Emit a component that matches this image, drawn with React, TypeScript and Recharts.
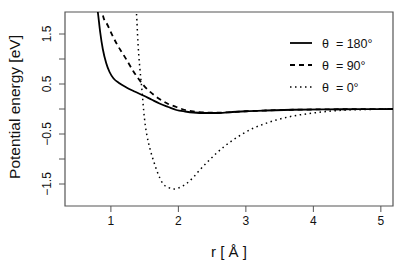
import React from 'react';
import { LineChart, Line, XAxis, YAxis, ReferenceArea } from 'recharts';

// r [Å] and potential energy [eV]
const r180 = [0.79, 0.81, 0.84, 0.88, 0.93, 0.98, 1.04, 1.12, 1.23, 1.35, 1.48, 1.6, 1.72, 1.85, 1.97, 2.1, 2.22, 2.4, 2.6, 2.8, 3.0, 3.3, 3.7, 4.2, 4.7, 5.18];
const e180 = [2.1, 1.9, 1.55, 1.2, 0.92, 0.74, 0.61, 0.52, 0.43, 0.35, 0.27, 0.19, 0.11, 0.04, -0.02, -0.05, -0.07, -0.08, -0.08, -0.06, -0.045, -0.03, -0.015, -0.007, -0.003, 0];

const r90 = [0.86, 0.886, 0.95, 1.03, 1.1, 1.18, 1.26, 1.33, 1.4, 1.48, 1.55, 1.62, 1.72, 1.85, 1.97, 2.1, 2.22, 2.4, 2.6, 2.8, 3.0, 3.3, 3.7, 4.2, 4.7, 5.18];
const e90 = [2.05, 1.85, 1.68, 1.45, 1.27, 1.1, 0.92, 0.76, 0.62, 0.48, 0.38, 0.3, 0.2, 0.1, 0.04, -0.02, -0.05, -0.07, -0.075, -0.06, -0.045, -0.03, -0.015, -0.007, -0.003, 0];

const r0 = [1.37, 1.38, 1.4, 1.413, 1.43, 1.453, 1.47, 1.487, 1.51, 1.53, 1.58, 1.63, 1.7, 1.77, 1.85, 1.93, 2.0, 2.12, 2.22, 2.31, 2.43, 2.56, 2.68, 2.81, 2.95, 3.1, 3.27, 3.45, 3.7, 3.94, 4.2, 4.43, 4.8, 5.18];
const e0 = [2.1, 1.9, 1.35, 1.08, 0.8, 0.48, 0.22, -0.05, -0.33, -0.5, -0.8, -1.03, -1.3, -1.49, -1.57, -1.6, -1.58, -1.49, -1.37, -1.23, -1.06, -0.89, -0.75, -0.62, -0.5, -0.39, -0.3, -0.22, -0.14, -0.09, -0.05, -0.025, -0.01, 0];

const xTicks = [1, 2, 3, 4, 5];
const yTicks = [-1.5, -1, -0.5, 0, 0.5, 1, 1.5];
const yLabelled = [-1.5, -0.5, 0.5, 1.5];

const DASHED = '5 4';
const DOTTED = '1.5 3.5';

const legendItems = [
  { label: 'θ  = 180°', dash: undefined, width: 1.8 },
  { label: 'θ  = 90°', dash: DASHED, width: 1.8 },
  { label: 'θ  = 0°', dash: DOTTED, width: 1.5 },
];

const toPoints = (xs: number[], ys: number[]) => xs.map((r, i) => ({ r, e: ys[i] }));

const FONT = '"Liberation Sans", Arial, Helvetica, sans-serif';
const X_DOMAIN: [number, number] = [0.32, 5.18];
const Y_DOMAIN: [number, number] = [-1.94, 1.94];

const fmtNum = (v: number) => (v < 0 ? '\u2212' + Math.abs(v) : String(v));

const YTick = (props: any) => {
  const { x, y, payload } = props;
  if (!yLabelled.includes(payload.value)) return null;
  const tx = x - 6;
  return (
    <text x={tx} y={y} transform={`rotate(-90, ${tx}, ${y})`} textAnchor="middle" fontSize={12} fontFamily={FONT} fill="#111">
      {fmtNum(payload.value)}
    </text>
  );
};

const App: React.FC = () => {
  return (
    <div style={{ position: 'absolute', left: 0, top: 0, width: 407, height: 271, background: '#fff' }}>
      <LineChart width={407} height={271} margin={{ top: 12, right: 14, left: 0, bottom: 0 }}>
        <XAxis
          type="number"
          dataKey="r"
          domain={X_DOMAIN}
          ticks={xTicks}
          allowDataOverflow
          height={65}
          tickSize={6}
          tickMargin={4}
          axisLine={false}
          tickLine={{ stroke: '#555' }}
          tick={{ fontSize: 12, fontFamily: FONT, fill: '#111' }}
          label={{
            content: (p: any) => {
              const vb = p.viewBox;
              return (
                <text x={vb.x + vb.width / 2} y={vb.y + 51} textAnchor="middle" fontSize={15} fontFamily={FONT} fill="#111">
                  r [ Å ]
                </text>
              );
            },
          }}
        />
        <YAxis
          type="number"
          dataKey="e"
          domain={Y_DOMAIN}
          ticks={yTicks}
          allowDataOverflow
          width={65}
          tickSize={6}
          tickMargin={2}
          axisLine={false}
          tickLine={{ stroke: '#555' }}
          tick={<YTick />}
          label={{
            content: (p: any) => {
              const vb = p.viewBox;
              const lx = vb.x + 20;
              const ly = vb.y + vb.height / 2 - 2;
              return (
                <text x={lx} y={ly} transform={`rotate(-90, ${lx}, ${ly})`} textAnchor="middle" fontSize={15.5} fontFamily={FONT} fill="#111">
                  Potential energy [eV]
                </text>
              );
            },
          }}
        />
        <ReferenceArea x1={X_DOMAIN[0]} x2={X_DOMAIN[1]} y1={Y_DOMAIN[0]} y2={Y_DOMAIN[1]} fill="none" stroke="#555" strokeWidth={1.2} ifOverflow="visible" />
        <Line data={toPoints(r180, e180)} dataKey="e" type="monotone" stroke="#000" strokeWidth={1.8} dot={false} isAnimationActive={false} />
        <Line data={toPoints(r90, e90)} dataKey="e" type="monotone" stroke="#000" strokeWidth={1.8} strokeDasharray={DASHED} dot={false} isAnimationActive={false} />
        <Line data={toPoints(r0, e0)} dataKey="e" type="monotone" stroke="#000" strokeWidth={1.5} strokeDasharray={DOTTED} dot={false} isAnimationActive={false} />
      </LineChart>
      <svg width={407} height={271} style={{ position: 'absolute', left: 0, top: 0, pointerEvents: 'none' }}>
        {legendItems.map((it, i) => {
          const y = 43 + i * 22;
          return (
            <g key={it.label}>
              <line x1={290} x2={312} y1={y} y2={y} stroke="#000" strokeWidth={it.width} strokeDasharray={it.dash} />
              <text x={322} y={y + 4.5} fontSize={12.5} fontFamily={FONT} fill="#111" style={{ whiteSpace: 'pre' }}>
                {it.label}
              </text>
            </g>
          );
        })}
      </svg>
    </div>
  );
};

export default App;
